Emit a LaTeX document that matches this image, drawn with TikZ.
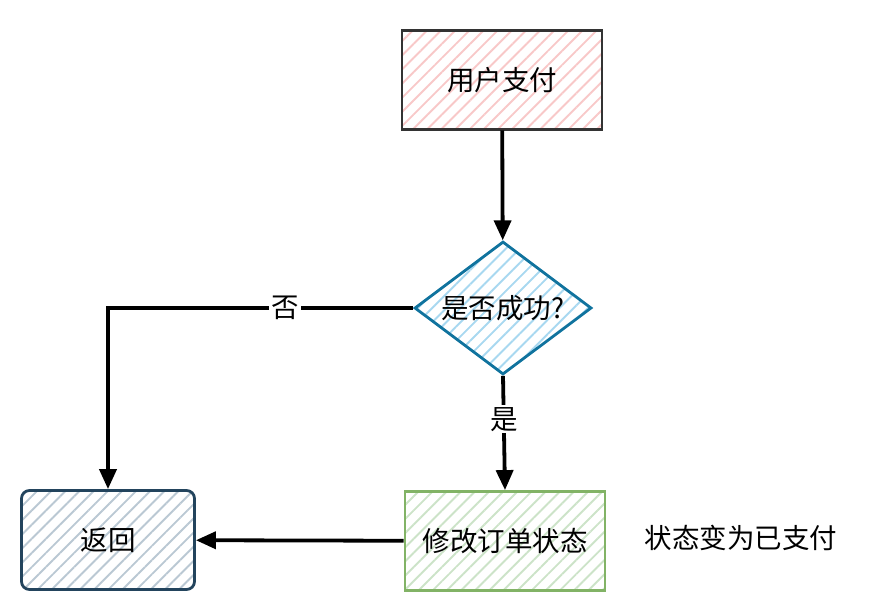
\documentclass[tikz,border=0pt]{standalone}
\usepackage{fontspec}
\setmainfont{Noto Sans CJK SC}
\usetikzlibrary{arrows.meta,shapes.geometric,patterns.meta}
\definecolor{payline}{HTML}{333333}
\definecolor{payfill}{HTML}{F8C8C8}
\definecolor{checkline}{HTML}{10739E}
\definecolor{checkfill}{HTML}{A8D8F0}
\definecolor{modline}{HTML}{82B366}
\definecolor{modfill}{HTML}{CCE3C8}
\definecolor{backline}{HTML}{23445D}
\definecolor{backfill}{HTML}{BAC8D3}

\begin{document}
\begin{tikzpicture}[x=1pt, y=-1pt,
	every node/.style={font=\fontsize{27.5}{32}\selectfont},
	>={Triangle[length=20pt,width=17pt]},
	hatch/.style={pattern={Lines[angle=45,distance=10pt,line width=1.9pt]}, pattern color=#1},
	box/.style={draw, line width=2.8pt, minimum width=200pt, minimum height=99pt, inner sep=0pt},
	flow/.style={->, line width=3.8pt}]
	\useasboundingbox (0,0) rectangle (886,613);
	% boxes
	\node[box, draw=payline, hatch=payfill] (pay) at (502,80) {用户支付};
	\node[box, shape=diamond, draw=checkline, hatch=checkfill,
		minimum width=177pt, minimum height=133pt] (check) at (503,308) {\makebox[0pt]{是否成功?}};
	\node[box, draw=modline, hatch=modfill] (modify) at (505,541) {修改订单状态};
	\node[box, draw=backline, hatch=backfill, rounded corners=8pt,
		minimum width=173pt] (back) at (108,540) {返回};
	\node (note) at (741,538) {状态变为已支付};
	% connectors
	\draw[flow] (pay) -- (check);
	\draw[flow] (check.west) -| (back.north) node[pos=0.21, fill=white, inner sep=2pt] {否};
	\draw[flow] (check.south) -- (modify.north) node[pos=0.38, fill=white, inner sep=2pt] {是};
	\draw[flow] (modify) -- (back);
\end{tikzpicture}
\end{document}
